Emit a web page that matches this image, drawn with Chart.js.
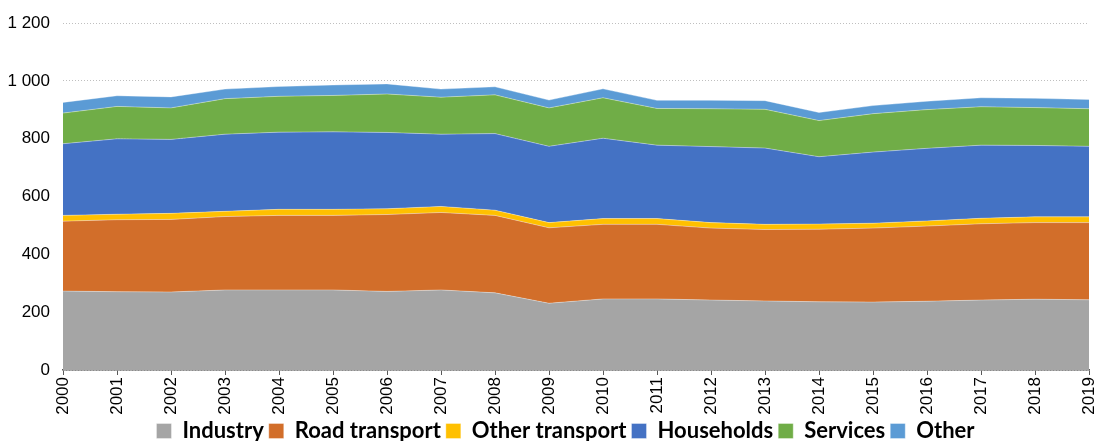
<!DOCTYPE html>
<html>
<head>
<meta charset="utf-8">
<script src="https://cdn.jsdelivr.net/npm/chart.js@4"></script>
<style>
html,body{margin:0;padding:0;background:#fff;}
#wrap{width:1099px;height:441px;}
</style>
</head>
<body>
<div id="wrap"><canvas id="c" width="1099" height="441"></canvas></div>
<script>
const years = ['2000','2001','2002','2003','2004','2005','2006','2007','2008','2009','2010','2011','2012','2013','2014','2015','2016','2017','2018','2019'];
const industry = [273,271,270,277,277,277,272,277,267,231,246,246,242,239,236,235,238,242,245,243];
const roadTransport = [242,249,251,254,258,258,266,268,268,261,258,258,249,247,251,256,260,264,265,267];
const otherTransport = [20,19,21,18,21,21,20,21,18,18,20,20,19,18,18,17,18,19,20,20];
const households = [248,261,256,267,267,268,264,250,265,264,278,254,263,264,233,246,251,253,247,244];
const services = [106,112,109,123,124,126,133,128,134,133,140,127,131,134,125,133,134,133,131,130];
const other = [37,37,38,33,34,36,35,28,28,27,31,28,29,30,28,28,29,31,32,32];
const yTicks = [0,200,400,600,800,1000,1200];

function ds(label, data, color, fill){
  return {label, data, backgroundColor: color, borderColor: 'rgba(255,255,255,0.35)', borderWidth: 1,
    fill, pointRadius: 0, pointHoverRadius: 0, tension: 0};
}

const legendTweak = {
  id: 'legendTweak',
  afterInit(chart){
    const lg = chart.legend;
    if (!lg) return;
    const f = lg.fit.bind(lg);
    lg.fit = function(){ f(); this.height = 26; };
    const d = lg.draw.bind(lg);
    lg.draw = function(a){
      const ctx = chart.ctx;
      ctx.save(); ctx.translate(21, 0); d(a); ctx.restore();
    };
  }
};

new Chart(document.getElementById('c'), {
  type: 'line',
  data: {
    labels: years,
    datasets: [
      ds('Industry', industry, '#A5A5A5', 'origin'),
      ds('Road transport', roadTransport, '#D26E2A', '-1'),
      ds('Other transport', otherTransport, '#FFC000', '-1'),
      ds('Households', households, '#4472C4', '-1'),
      ds('Services', services, '#70AD47', '-1'),
      ds('Other', other, '#5B9BD5', '-1')
    ]
  },
  plugins: [legendTweak],
  options: {
    responsive: false,
    animation: false,
    layout: {padding: {top: 19, right: 10, left: 0, bottom: 0}},
    plugins: {
      tooltip: {enabled: false},
      legend: {
        position: 'bottom',
        labels: {
          boxWidth: 15, boxHeight: 15, padding: 5,
          color: '#000',
          font: {family: 'Lato', size: 22, weight: 'bold'}
        }
      }
    },
    scales: {
      x: {
        offset: false,
        grid: {display: true, drawOnChartArea: false, drawTicks: true, tickLength: 5, color: '#595959'},
        border: {display: true, color: '#595959', width: 1.5},
        ticks: {minRotation: 90, maxRotation: 90, autoSkip: false, color: '#000', padding: 2,
          font: {family: 'Liberation Sans', size: 17}},
        afterFit: s => { s.height = 45; s.paddingRight = 0; s.paddingLeft = 0; }
      },
      y: {
        stacked: true,
        min: 0, max: 1200,
        afterBuildTicks: s => { s.ticks = yTicks.map(v => ({value: v})); },
        grid: {color: '#BFBFBF', drawTicks: false, lineWidth: 1},
        border: {display: false, dash: [1,2]},
        ticks: {color: '#000', padding: 13, font: {family: 'Liberation Sans', size: 17},
          callback: v => String(v).replace(/\B(?=(\d{3})+(?!\d))/g, ' ')},
        afterFit: s => { s.width = 63; }
      }
    }
  }
});
</script>
</body>
</html>
